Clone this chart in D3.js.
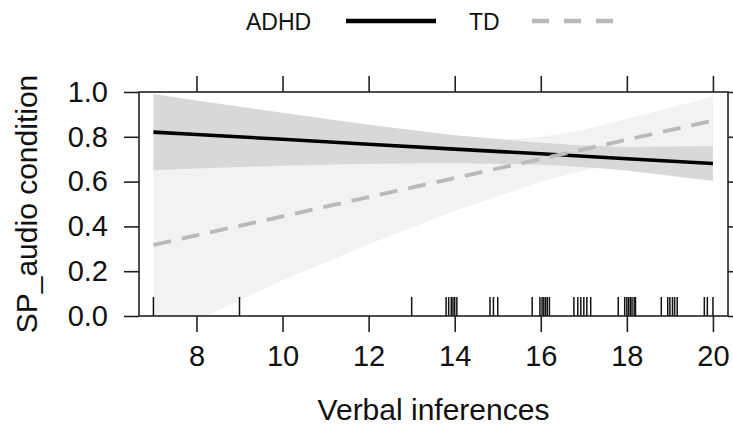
<!DOCTYPE html>
<html lang="en">
<head>
	<meta charset="UTF-8">
	<title>SP_audio condition vs Verbal inferences</title>
	<script src="https://cdn.jsdelivr.net/npm/d3@7"></script>
	<style>
		body { margin: 0; background: #fff; }
		text { font-family: "Liberation Sans", Arial, sans-serif; fill: #111; }
	</style>
</head>
<body>
	<svg id="svg"></svg>
	<script>
		// grid of predictor values the effect curves are read at
		var xs = [7, 8, 10, 12, 14, 16, 17, 18, 20];

		// ADHD fit and confidence band
		var adhdFit = [0.821, 0.810, 0.789, 0.767, 0.745, 0.724, 0.713, 0.702, 0.681];
		var adhdLo  = [0.651, 0.658, 0.671, 0.680, 0.683, 0.675, 0.665, 0.649, 0.603];
		var adhdHi  = [0.991, 0.962, 0.907, 0.854, 0.807, 0.773, 0.761, 0.755, 0.759];

		// TD fit and confidence band
		var tdFit = [0.317, 0.360, 0.445, 0.531, 0.616, 0.701, 0.744, 0.787, 0.872];
		var tdLo  = [-0.10, -0.02, 0.16, 0.32, 0.47, 0.60, 0.65, 0.69, 0.72];
		var tdHi  = [0.72, 0.72, 0.72, 0.73, 0.77, 0.80, 0.83, 0.88, 0.98];

		// observed Verbal inferences scores (rug)
		var rug = [7, 9, 13, 13.8, 13.86, 13.92, 13.96, 14.0, 14.05, 14.82, 14.9, 15.0,
			15.8, 15.98, 16.03, 16.07, 16.11, 16.15, 16.2, 16.77, 16.86, 16.93, 17.0, 17.07, 17.16,
			17.8, 17.95, 18.0, 18.04, 18.08, 18.12, 18.17, 18.2, 18.8, 18.95, 19.0, 19.06, 19.11, 19.17,
			19.8, 19.87, 20.0];

		var xTicks = [8, 10, 12, 14, 16, 18, 20];
		var yTicks = [0, 0.2, 0.4, 0.6, 0.8, 1.0];

		(function() {
			var W = 733, H = 425;
			var svg = d3.select("#svg").attr("width", W).attr("height", H);

			var pL = 139, pR = 728, pT = 92, pB = 316;
			var x = d3.scaleLinear().domain([6.665, 20.35]).range([pL, pR]);
			var y = d3.scaleLinear().domain([0, 1]).range([pB, pT]);

			svg.append("clipPath").attr("id", "panel")
				.append("rect").attr("x", pL).attr("y", pT)
				.attr("width", pR - pL).attr("height", pB - pT);

			var plot = svg.append("g").attr("clip-path", "url(#panel)");

			function band(lo, hi) {
				return d3.area()
					.x(function(d, i) { return x(xs[i]); })
					.y0(function(d, i) { return y(lo[i]); })
					.y1(function(d, i) { return y(hi[i]); })(xs);
			}
			function line(fit) {
				return d3.line()
					.x(function(d, i) { return x(xs[i]); })
					.y(function(d, i) { return y(fit[i]); })(xs);
			}

			plot.append("path").attr("d", band(tdLo, tdHi)).attr("fill", "#f2f2f2");
			plot.append("path").attr("d", band(adhdLo, adhdHi)).attr("fill", "#d8d8d8");

			// rug
			plot.selectAll("line.rug").data(rug).enter().append("line")
				.attr("class", "rug")
				.attr("x1", function(d) { return x(d); }).attr("x2", function(d) { return x(d); })
				.attr("y1", pB).attr("y2", pB - 19)
				.attr("stroke", "#111").attr("stroke-width", 1.5);

			plot.append("path").attr("d", line(adhdFit))
				.attr("fill", "none").attr("stroke", "#000").attr("stroke-width", 3.6);
			plot.append("path").attr("d", line(tdFit))
				.attr("fill", "none").attr("stroke", "#b9b9b9").attr("stroke-width", 3.8)
				.attr("stroke-dasharray", "18,11");

			// axes (lattice style: ticks all round, labels bottom and left)
			var axisCol = "#222";
			function styleAxis(g) {
				g.select(".domain").remove();
				g.selectAll(".tick line").attr("stroke", axisCol).attr("stroke-width", 1.6);
				g.selectAll(".tick text").style("font-size", "29px").attr("fill", "#111");
			}
			svg.append("g").attr("transform", "translate(0," + pB + ")")
				.call(d3.axisBottom(x).tickValues(xTicks).tickSize(16).tickPadding(13)
					.tickFormat(d3.format("d")))
				.call(styleAxis);
			svg.append("g").attr("transform", "translate(0," + pT + ")")
				.call(d3.axisTop(x).tickValues(xTicks).tickSize(16).tickFormat(""))
				.call(styleAxis);
			svg.append("g").attr("transform", "translate(" + pL + ",0)")
				.call(d3.axisLeft(y).tickValues(yTicks).tickSize(15).tickPadding(16)
					.tickFormat(d3.format(".1f")))
				.call(styleAxis);
			svg.append("g").attr("transform", "translate(" + pR + ",0)")
				.call(d3.axisRight(y).tickValues(yTicks).tickSize(15).tickFormat(""))
				.call(styleAxis);

			svg.append("rect").attr("x", pL).attr("y", pT)
				.attr("width", pR - pL).attr("height", pB - pT)
				.attr("fill", "none").attr("stroke", axisCol).attr("stroke-width", 1.6);

			// axis titles
			svg.append("text").attr("x", (pL + pR) / 2).attr("y", 420)
				.attr("text-anchor", "middle").style("font-size", "30px")
				.text("Verbal inferences");
			svg.append("text")
				.attr("transform", "translate(37," + ((pT + pB) / 2) + ") rotate(-90)")
				.attr("text-anchor", "middle").style("font-size", "30px")
				.text("SP_audio condition");

			// legend
			var leg = svg.append("g");
			leg.append("text").attr("x", 246).attr("y", 30).style("font-size", "23px").text("ADHD");
			leg.append("line").attr("x1", 346).attr("x2", 436).attr("y1", 21).attr("y2", 21)
				.attr("stroke", "#000").attr("stroke-width", 4.5);
			leg.append("text").attr("x", 469).attr("y", 30).style("font-size", "23px").text("TD");
			leg.append("line").attr("x1", 532).attr("x2", 615).attr("y1", 21).attr("y2", 21)
				.attr("stroke", "#b9b9b9").attr("stroke-width", 4.5).attr("stroke-dasharray", "17,15");
		})();
	</script>
</body>
</html>
